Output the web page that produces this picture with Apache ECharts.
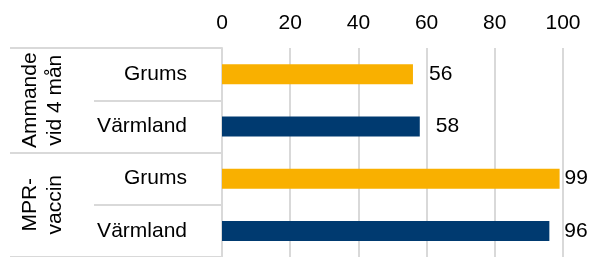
<!DOCTYPE html>
<html>
<head>
<meta charset="utf-8">
<style>
  html, body { margin: 0; padding: 0; background: #fff; }
  #chart { width: 592px; height: 257px; }
</style>
</head>
<body>
<div id="chart"></div>
<script src="https://cdn.jsdelivr.net/npm/echarts@6/dist/echarts.min.js"></script>
<script>
// data
var groups = ['Ammande\nvid 4 mån', 'MPR-\nvaccin'];
var categories = ['Grums', 'Värmland', 'Grums', 'Värmland'];
var values = [56, 58, 99, 96];
var xTicks = [0, 20, 40, 60, 80, 100];

var ORANGE = '#F9B000';
var NAVY = '#003A70';
var GRID = '#D9D9D9';
var FONT = 'Liberation Sans, Arial, sans-serif';
// label gap right of each bar (as in the original)
var labelGap = [16, 16, 5, 15];

var chart = echarts.init(document.getElementById('chart'));

var option = {
    animation: false,
    grid: { left: 222, right: 29, top: 48, bottom: -5 },
    xAxis: {
        type: 'value',
        position: 'top',
        min: xTicks[0],
        max: xTicks[xTicks.length - 1],
        interval: 20,
        axisLine: { show: false },
        axisTick: { show: false },
        axisLabel: { fontSize: 21, color: '#000', fontFamily: FONT, margin: 14 },
        splitLine: { show: true, lineStyle: { color: GRID, width: 2 } }
    },
    yAxis: [{
        type: 'category',
        inverse: true,
        data: categories,
        position: 'left',
        axisLine: { show: true, lineStyle: { color: GRID, width: 2 } },
        axisTick: { show: true, length: 128, lineStyle: { color: GRID, width: 2 } },
        axisLabel: { interval: 0, fontSize: 21, color: '#000', fontFamily: FONT, margin: 35 }
    }, {
        type: 'category',
        inverse: true,
        data: groups,
        position: 'left',
        axisLine: { show: false },
        axisTick: { show: true, interval: 0, length: 212, lineStyle: { color: GRID, width: 2 } },
        axisLabel: {
            interval: 0, hideOverlap: false,
            rotate: 90, fontSize: 21, lineHeight: 25, color: '#000',
            fontFamily: FONT, margin: 154
        }
    }],
    series: [{
        type: 'bar',
        yAxisIndex: 0,
        barWidth: 20,
        data: values.map(function (v, i) {
            return {
                value: v,
                label: { distance: labelGap[i] }
            };
        }),
        itemStyle: {
            color: function (p) { return p.name === 'Grums' ? ORANGE : NAVY; }
        },
        label: {
            show: true,
            position: 'right',
            fontSize: 21,
            color: '#000',
            fontFamily: FONT
        }
    }]
};

chart.setOption(option);
</script>
</body>
</html>
